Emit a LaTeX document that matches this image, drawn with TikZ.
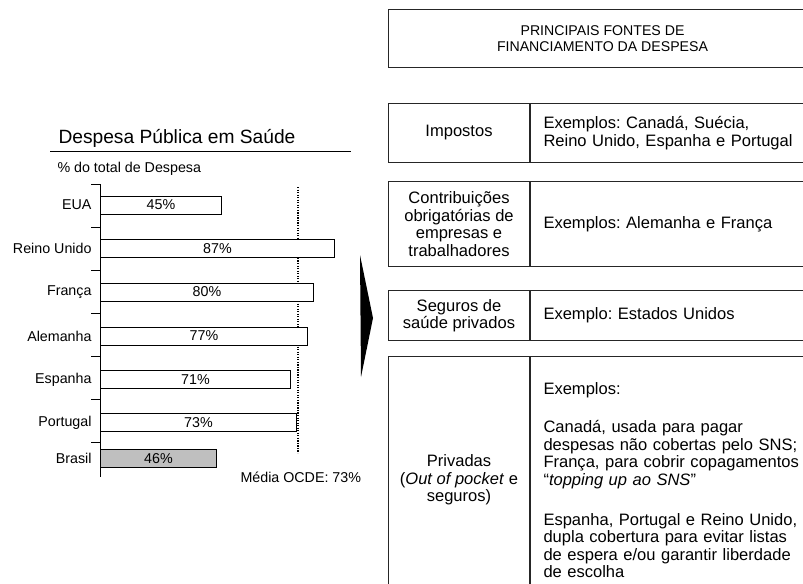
\documentclass[tikz,border=0pt]{standalone}
\usepackage{fontspec}
\setmainfont{Liberation Sans}
\frenchspacing
\usetikzlibrary{positioning}
\newcommand{\pu}{0.75pt}

\begin{document}
\begin{tikzpicture}[x=0.75pt, y=-0.75pt, line width=0.75pt,
  small/.style = {font=\fontsize{10.7}{12}\selectfont},
  plain/.style = {inner sep=0pt, anchor=base west},
  bar/.style = {draw, small, minimum height=18*\pu, inner sep=0pt, anchor=west},
  cell/.style = {draw=black!85, font=\fontsize{12.4}{13.1}\selectfont,
                 align=center, inner sep=0pt, anchor=north west},
  cellL/.style = {cell, minimum width=141*\pu},
  cellR/.style = {cell, align=left, text width=280*\pu, inner xsep=13*\pu}]
  \useasboundingbox (0,0) rectangle (803,583);
  \clip (0,0) rectangle (803,583);

  % chart
  \node[plain, font=\fontsize{14.4}{16}\selectfont] (title) at (58,143.5)
    {Despesa Pública em Saúde};
  \draw (50,151) -- (351,151);
  \node[plain, small] (unit) at (57,172.5) {\% do total de Despesa};
  \draw (100,184) -- (100,477);
  \foreach \y in {184,227,...,442}
    \draw (91,\y) -- (100,\y);
  \draw[densely dotted, line width=0.9pt] (298,187) -- (298,453);
  \foreach \name/\pct/\len/\y/\col [count=\i] in
    {EUA/45/121/205/white, Reino Unido/87/234/248.5/white,
     França/80/213/292/white, Alemanha/77/207/336/white,
     Espanha/71/190/379.5/white, Portugal/73/196/422.5/white,
     Brasil/46/116/458.5/black!25}
  {
    \node[bar, fill=\col, minimum width=\len*\pu] (bar\i) at (100,\y) {\pct\%};
    \node[small, inner sep=0pt, left=8*\pu of bar\i] (lab\i) {\name};
  }
  \node[plain, small] (mean) at (240,482) {Média OCDE: 73\%};

  % arrow
  \fill (360,255) -- (373,318) -- (361,377) -- cycle;

  % table
  \node[cell, minimum width=428*\pu, minimum height=58*\pu,
        font=\fontsize{10.6}{11.8}\selectfont] (header) at (388,9)
    {PRINCIPAIS FONTES DE\\FINANCIAMENTO DA DESPESA};

  \node[cellL, minimum height=59*\pu] (imp) at (388,103) {Impostos};
  \node[cellR, minimum height=59*\pu] (impex) at (imp.north east)
    {Exemplos: Canadá, Suécia,\\Reino Unido, Espanha e Portugal};

  \node[cellL, minimum height=85*\pu] (contrib) at (388,181)
    {Contribuições\\obrigatórias de\\empresas e\\trabalhadores};
  \node[cellR, minimum height=85*\pu] (contribex) at (contrib.north east)
    {Exemplos: Alemanha e França};

  \node[cellL, minimum height=50*\pu] (seg) at (388,290)
    {Seguros de\\saúde privados};
  \node[cellR, minimum height=50*\pu] (segex) at (seg.north east)
    {Exemplo: Estados Unidos};

  \node[cellL, minimum height=247*\pu] (priv) at (388,356)
    {Privadas\\(\textit{Out of pocket} e\\seguros)};
  \node[cellR, minimum height=247*\pu] (privex) at (priv.north east)
    {Exemplos:\\[16pt]
     Canadá, usada para pagar\\
     despesas não cobertas pelo SNS;\\
     França, para cobrir copagamentos\\
     “\textit{topping up ao SNS}”\\[17pt]
     Espanha, Portugal e Reino Unido,\\
     dupla cobertura para evitar listas\\
     de espera e/ou garantir liberdade\\
     de escolha};
\end{tikzpicture}
\end{document}
